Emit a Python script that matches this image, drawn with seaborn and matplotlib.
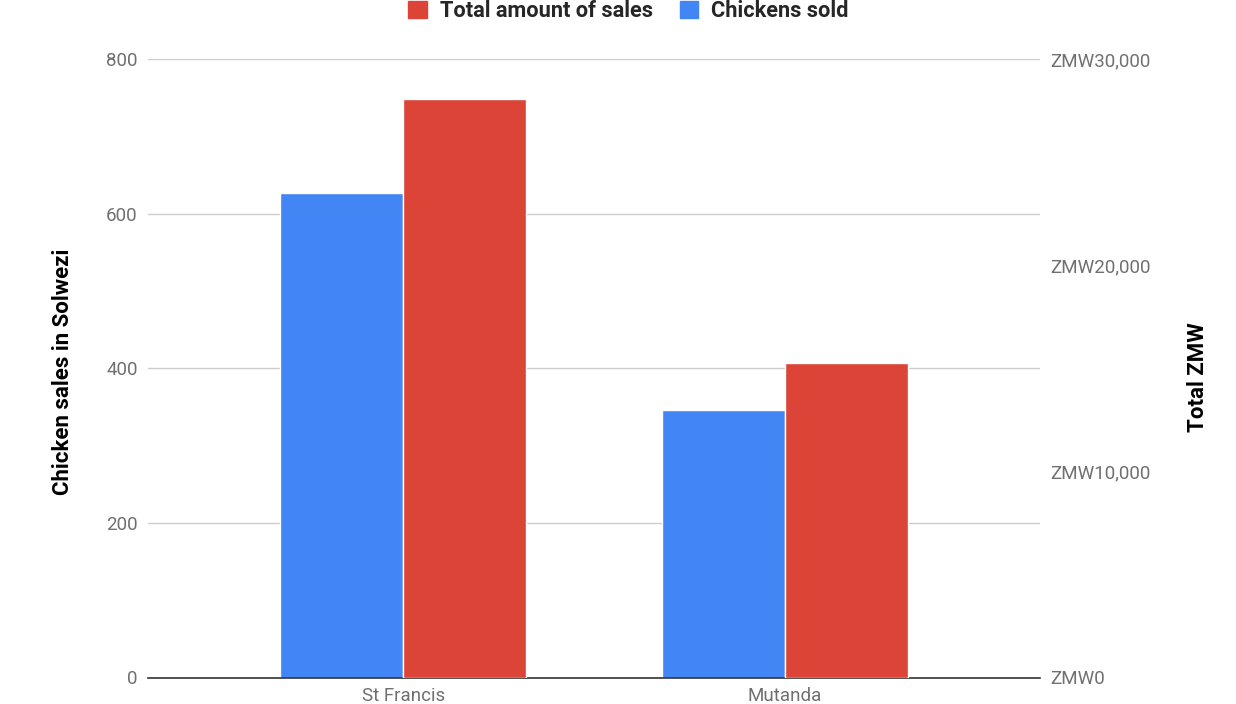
import matplotlib
matplotlib.use("Agg")
import matplotlib.pyplot as plt
import matplotlib.ticker as mticker
from matplotlib.patches import Patch
import seaborn as sns
import pandas as pd

locations = ["St Francis", "Mutanda"]
chickens_sold = [627, 346]
total_sales = [28060, 15270]
series_names = ["Chickens sold", "Total amount of sales"]
left_ticks = [0, 200, 400, 600, 800]
right_ticks = [0, 10000, 20000, 30000]

BLUE = "#4285F4"
RED = "#DB4437"
palette = {series_names[0]: BLUE, series_names[1]: RED}

sns.set_theme(style="white")
plt.rcParams["font.family"] = ["Roboto", "DejaVu Sans"]

# each axis gets both hue levels so seaborn dodges; the other series is 0 and removed afterwards
df_left = pd.DataFrame({
    "Location": locations * 2,
    "Series": [series_names[0]] * 2 + [series_names[1]] * 2,
    "Value": chickens_sold + [0, 0],
})
df_right = pd.DataFrame({
    "Location": locations * 2,
    "Series": [series_names[0]] * 2 + [series_names[1]] * 2,
    "Value": [0, 0] + total_sales,
})

fig = plt.figure(figsize=(12.36, 7.04), dpi=100)
ax = fig.add_axes([148/1236, 1-677.5/704, (1040-148)/1236, (677.5-59)/704])
ax2 = ax.twinx()

for a, d in ((ax, df_left), (ax2, df_right)):
    sns.barplot(data=d, x="Location", y="Value", hue="Series", hue_order=series_names,
                order=locations, palette=palette, width=0.645, ax=a, legend=False,
                edgecolor="white", linewidth=1, saturation=1)
    for p in list(a.patches):
        if p.get_height() == 0:
            p.remove()

ax.set_xlim(-0.669, 1.669)
ax.set_ylim(0, 800)
ax2.set_ylim(0, 30000)
ax.set_yticks(left_ticks)
ax2.set_yticks(right_ticks)
ax2.yaxis.set_major_formatter(mticker.FuncFormatter(lambda v, p: f"ZMW{int(v):,}"))

ax.set_axisbelow(True)
ax.yaxis.grid(True, color="#cccccc", linewidth=1)
ax.xaxis.grid(False)
ax2.grid(False)
for a in (ax, ax2):
    for s in a.spines.values():
        s.set_visible(False)
ax.spines["bottom"].set_visible(True)
ax.spines["bottom"].set_color("#333333")
ax.spines["bottom"].set_linewidth(1.2)

tick_color = "#707070"
ax.tick_params(axis="y", length=0, pad=7.5, labelsize=13.5, labelcolor=tick_color)
ax.tick_params(axis="x", length=0, pad=6.5, labelsize=13.5, labelcolor=tick_color)
ax2.tick_params(axis="y", length=0, pad=7.5, labelsize=13.5, labelcolor=tick_color)

ax.set_xlabel("")
ax.set_ylabel("Chicken sales in Solwezi", fontsize=16, fontweight="bold", color="black")
ax2.set_ylabel("Total ZMW", fontsize=16, fontweight="bold", color="black")
ax.yaxis.set_label_coords(-0.083, 0.4948)
ax2.yaxis.set_label_coords(1.1648, 0.485)

handles = [Patch(facecolor=RED, edgecolor=RED, label=series_names[1]),
           Patch(facecolor=BLUE, edgecolor=BLUE, label=series_names[0])]
fig.legend(handles=handles, loc="center", bbox_to_anchor=(628.5/1236, 1-11/704), ncol=2,
           frameon=False, handlelength=0.85, handleheight=0.85, handletextpad=0.6,
           columnspacing=1.24, prop={"weight": "bold", "size": 15.7})

fig.savefig("out.png", dpi=100)
